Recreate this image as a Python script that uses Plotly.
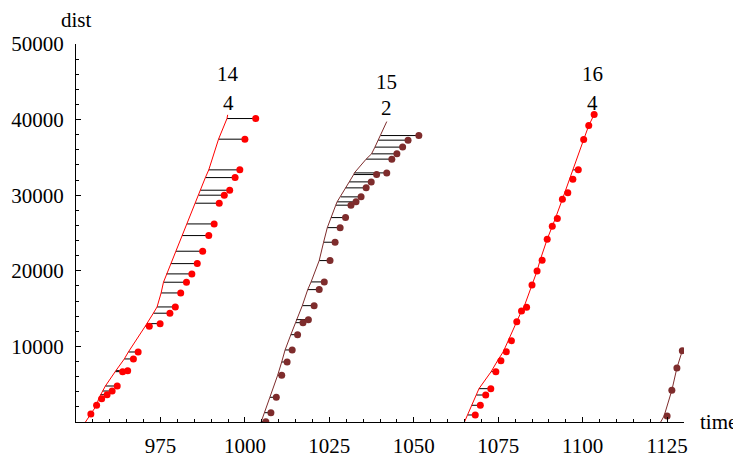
import plotly.graph_objects as go

# ---------------- data ----------------
# group 1 (red, label 14 / 4)
g1_dist = [40140, 37410, 33350, 32330, 30660, 30000, 28940, 26200, 24660, 22590, 20950,
           19590, 18490, 17070, 15220, 14390, 13010, 12670, 9260, 8340, 6790, 6660,
           4760, 4100, 3610, 3080, 2210, 1060]
g1_dot = [1003.2, 1000.0, 998.5, 997.1, 995.5, 993.9, 992.4, 990.9, 989.3, 987.5, 985.9,
          984.3, 982.7, 981.0, 979.4, 977.8, 974.9, 971.7, 968.4, 967.0, 965.3, 963.8,
          962.2, 960.7, 959.2, 957.6, 956.1, 954.4]
g1_sched = [994.7, 992.2, 989.3, 988.3, 986.8, 986.3, 985.3, 982.9, 981.4, 979.6, 978.1,
            976.8, 975.9, 975.2, 974.0, 972.9, 971.0, 970.5, 965.5, 964.3, 961.8, 961.6,
            958.7, 957.9, 957.2, 956.7, 956.1, 954.4]
g1_ends_t = [994.9, 952.8]
g1_ends_d = [40630, 0]

# group 2 (dark red, label 15 / 2)
g2_dist = [37890, 37280, 36360, 35470, 34770, 32950, 32730, 31760, 30970, 29780, 29120,
           28680, 27040, 25710, 23780, 21350, 18530, 17510, 15390, 13540, 13140, 11550,
           9530, 7940, 6180, 3270, 1230, 40]
g2_dot = [1051.5, 1048.3, 1046.7, 1045.0, 1043.5, 1042.0, 1039.0, 1037.4, 1035.9, 1034.4,
          1032.9, 1031.4, 1029.8, 1028.2, 1026.7, 1025.2, 1023.5, 1022.0, 1020.5, 1018.8,
          1017.2, 1015.6, 1014.0, 1012.5, 1010.9, 1009.3, 1007.7, 1006.2]
g2_sched = [1040.2, 1039.5, 1038.5, 1037.5, 1035.9, 1032.4, 1032.2, 1030.9, 1029.8, 1028.4,
            1027.3, 1026.9, 1025.5, 1024.4, 1023.3, 1022.0, 1019.6, 1018.6, 1017.0, 1015.2,
            1015.0, 1013.6, 1011.9, 1010.9, 1009.7, 1007.4, 1005.9, 1004.85]
g2_ends_t = [1042.0, 1004.8]
g2_ends_d = [39740, 0]

# group 3 (red, label 16 / 4)
g3_dist = [40670, 39210, 37360, 33350, 32120, 30310, 29470, 26910, 25900, 24180, 21400,
           19980, 18130, 15180, 14690, 13270, 10760, 9300, 8110, 6660, 4410, 3570, 2210, 930]
g3_dot = [1103.4, 1101.8, 1100.3, 1098.7, 1097.1, 1095.6, 1094.0, 1092.5, 1091.0, 1089.5,
          1088.0, 1086.5, 1085.0, 1083.4, 1081.9, 1080.5, 1078.9, 1077.4, 1075.8, 1074.3,
          1072.8, 1071.3, 1069.7, 1068.2]
g3_sched = [1103.4, 1101.8, 1100.3, 1097.2, 1096.2, 1094.8, 1094.0, 1091.9, 1091.0, 1089.5,
            1087.4, 1086.5, 1085.0, 1082.6, 1081.9, 1080.5, 1078.0, 1076.5, 1074.8, 1072.9,
            1069.3, 1068.5, 1067.1, 1066.0]
g3_ends_t = [1103.4, 1065.0]
g3_ends_d = [40670, 0]

# group 4 (dark red, no label)
g4_dist = [9440, 7150, 4190, 790]
g4_dot = [1129.5, 1127.9, 1126.4, 1125.0]
g4_sched = [1129.5, 1127.9, 1126.4, 1124.1]
g4_ends_t = [1129.8, 1123.1]
g4_ends_d = [9750, 0]

group_labels = [("14", "4"), ("15", "2"), ("16", "4")]
label_t = [995.0, 1041.8, 1103.0]
label_top_d = [46050, 45000, 46050]
label_bot_d = [42250, 41550, 42250]

x_ticks = [975, 1000, 1025, 1050, 1075, 1100, 1125]
y_ticks = [10000, 20000, 30000, 40000, 50000]

RED = "#ff0000"
DARK = "#7e2c2c"
FONT = "Liberation Serif"
FS = 21

groups = [
    (g1_dist, g1_dot, g1_sched, g1_ends_t, g1_ends_d, RED),
    (g2_dist, g2_dot, g2_sched, g2_ends_t, g2_ends_d, DARK),
    (g3_dist, g3_dot, g3_sched, g3_ends_t, g3_ends_d, RED),
    (g4_dist, g4_dot, g4_sched, g4_ends_t, g4_ends_d, DARK),
]

fig = go.Figure()

for dist, dot, sched, ends_t, ends_d, col in groups:
    sx, sy = [], []
    for d, t_dot, t_s in zip(dist, dot, sched):
        if abs(t_dot - t_s) > 1e-9:
            sx += [t_s, t_dot, None]
            sy += [d, d, None]
    if sx:
        fig.add_trace(go.Scatter(x=sx, y=sy, mode="lines",
                                 line=dict(color="black", width=1),
                                 hoverinfo="skip", showlegend=False))
    lx = [ends_t[0]] + list(sched) + [ends_t[1]]
    ly = [ends_d[0]] + list(dist) + [ends_d[1]]
    fig.add_trace(go.Scatter(x=lx, y=ly, mode="lines",
                             line=dict(color=col, width=1),
                             hoverinfo="skip", showlegend=False))
    fig.add_trace(go.Scatter(x=dot, y=dist, mode="markers",
                             marker=dict(color=col, size=7, line=dict(width=0)),
                             showlegend=False))

annotations = []
for (top, bot), t, dt, db in zip(group_labels, label_t, label_top_d, label_bot_d):
    annotations.append(dict(x=t, y=dt, xref="x", yref="y", text=top, showarrow=False,
                            font=dict(family=FONT, size=FS, color="black")))
    annotations.append(dict(x=t, y=db, xref="x", yref="y", text=bot, showarrow=False,
                            font=dict(family=FONT, size=FS, color="black")))

annotations.append(dict(x=0, y=1.0635, xref="paper", yref="paper", text="dist",
                        showarrow=False, xanchor="center", yanchor="middle",
                        font=dict(family=FONT, size=FS, color="black")))
annotations.append(dict(x=1.0560, y=0.0, xref="paper", yref="paper", text="time",
                        showarrow=False, xanchor="center", yanchor="middle",
                        font=dict(family=FONT, size=FS, color="black")))

# page body has an 8px margin, so the figure is sized/offset to compensate
fig.update_layout(
    width=733, height=449,
    margin=dict(l=68, r=57, t=36, b=35, pad=0, autoexpand=False),
    paper_bgcolor="white", plot_bgcolor="white",
    font=dict(family=FONT, size=FS, color="black"),
    annotations=annotations,
    showlegend=False,
)

fig.update_xaxes(range=[950, 1130], showgrid=False, zeroline=False, automargin=False,
                 showline=True, linecolor="black", linewidth=1,
                 ticks="inside", ticklen=5, tickwidth=1, tickcolor="black",
                 tickvals=x_ticks, ticktext=[str(v) for v in x_ticks],
                 tickfont=dict(family=FONT, size=FS, color="black"),
                 ticklabelstandoff=5,
                 minor=dict(dtick=5, tick0=950, ticks="inside", ticklen=3,
                            tickcolor="black", tickwidth=1, showgrid=False))
fig.update_yaxes(range=[0, 50000], showgrid=False, zeroline=False, automargin=False,
                 showline=True, linecolor="black", linewidth=1,
                 ticks="inside", ticklen=5, tickwidth=1, tickcolor="black",
                 tickvals=y_ticks, ticktext=[str(v) for v in y_ticks],
                 tickfont=dict(family=FONT, size=FS, color="black"),
                 ticklabelstandoff=7,
                 minor=dict(dtick=2000, tick0=0, ticks="inside", ticklen=3,
                            tickcolor="black", tickwidth=1, showgrid=False))

fig.write_html("out.html")
